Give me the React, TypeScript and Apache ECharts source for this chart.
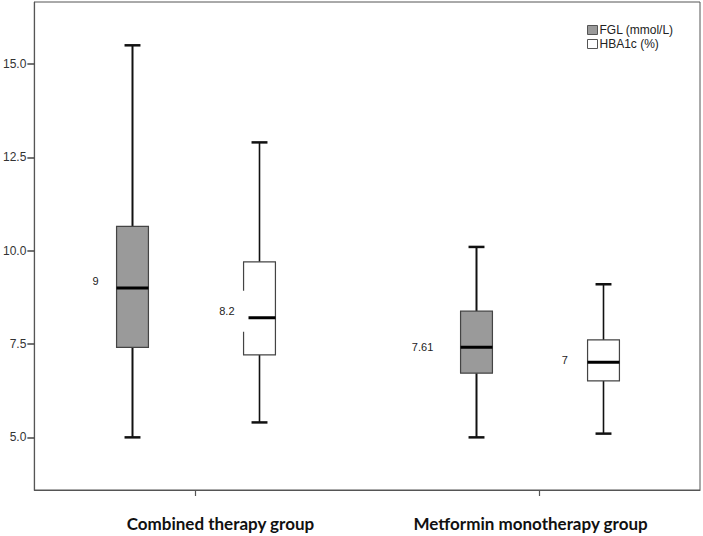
import React, { useEffect, useRef } from "react";
import * as echarts from "echarts";

// ---- data ----
const categories = ["Combined therapy group", "Metformin monotherapy group"];
const seriesNames = ["FGL (mmol/L)", "HBA1c (%)"];
// [min, Q1, median, Q3, max]
const fglStats = [
  [5.0, 7.41, 9.0, 10.65, 15.5],
  [5.0, 6.72, 7.41, 8.38, 10.1],
];
const hba1cStats = [
  [5.4, 7.21, 8.2, 9.7, 12.9],
  [5.1, 6.51, 7.01, 7.61, 9.1],
];
const fglLabels = ["9", "7.61"];
const hba1cLabels = ["8.2", "7"];
const yTickValues = [5, 7.5, 10, 12.5, 15];

// ---- layout constants ----
const Y_MIN = 3.59;
const Y_MAX = 16.66;
const X_MIN = -0.468;
const X_MAX = 1.466;
const GROUP_OFFSET = [-0.185, 0.185];
const BOX_WIDTH = 0.0926;
const CAP_WIDTH = 0.0463;
// pixel offsets of value labels: [dx from box left edge, dy from median]
const LABEL_OFFSETS = [
  [
    [-21, -6.7],
    [-38, -0.6],
  ],
  [
    [-16.7, -6.7],
    [-22.7, -2.3],
  ],
];
// category label paddings [top, right, bottom, left] (horizontal shift of labels)
const CAT_LABEL_PAD = [
  [0, 0, 0, 50],
  [0, 18, 0, 0],
];
const FILLS = ["#9a9a9a", "#ffffff"];
const WHISKER_W = [2, 1.6];

function makeRenderItem(sIdx: number, labels: string[]) {
  return (params: any, api: any) => {
    const xv = api.value(0) + GROUP_OFFSET[sIdx];
    const pMax = api.coord([xv, api.value(5)]);
    const pQ3 = api.coord([xv, api.value(4)]);
    const pMed = api.coord([xv, api.value(3)]);
    const pQ1 = api.coord([xv, api.value(2)]);
    const pMin = api.coord([xv, api.value(1)]);
    const cx = Math.round(pMax[0]) + 0.5;
    const hw = api.size([BOX_WIDTH, 0])[0] / 2;
    const cw = api.size([CAP_WIDTH, 0])[0] / 2;
    const off = LABEL_OFFSETS[sIdx][params.dataIndex];
    const ww = WHISKER_W[sIdx];
    return {
      type: "group",
      children: [
        {
          type: "line",
          shape: { x1: cx, y1: pQ3[1], x2: cx, y2: pMax[1] },
          style: { stroke: "#111", lineWidth: ww },
        },
        {
          type: "line",
          shape: { x1: cx, y1: pQ1[1], x2: cx, y2: pMin[1] },
          style: { stroke: "#111", lineWidth: ww },
        },
        {
          type: "line",
          shape: { x1: cx - cw, y1: pMax[1], x2: cx + cw, y2: pMax[1] },
          style: { stroke: "#111", lineWidth: 2.5 },
        },
        {
          type: "line",
          shape: { x1: cx - cw, y1: pMin[1], x2: cx + cw, y2: pMin[1] },
          style: { stroke: "#111", lineWidth: 2.5 },
        },
        {
          type: "rect",
          shape: { x: cx - hw, y: pQ3[1], width: hw * 2, height: pQ1[1] - pQ3[1] },
          style: { fill: FILLS[sIdx], stroke: "#444", lineWidth: 1.2 },
        },
        {
          type: "line",
          shape: { x1: cx - hw, y1: pMed[1], x2: cx + hw, y2: pMed[1] },
          style: { stroke: "#000", lineWidth: 3 },
        },
        {
          type: "text",
          x: cx - hw + off[0],
          y: pMed[1] + off[1],
          style: {
            text: labels[params.dataIndex],
            fill: "#222",
            font: "11px 'Liberation Sans', Arial, sans-serif",
            align: "center",
            verticalAlign: "middle",
            backgroundColor: "#ffffff",
            padding: [15, 14],
          },
        },
      ],
    };
  };
}

export default function App() {
  const ref = useRef<HTMLDivElement>(null);
  useEffect(() => {
    if (!ref.current) return;
    const chart = echarts.init(ref.current, null, { renderer: "svg" });
    const catRich: any = {};
    CAT_LABEL_PAD.forEach((p, i) => {
      catRich["c" + i] = {
        fontFamily: "Lato, 'Open Sans', sans-serif",
        fontWeight: "bold",
        fontSize: 17,
        color: "#111",
        padding: p,
      };
    });
    const option: any = {
      animation: false,
      backgroundColor: "#ffffff",
      grid: {
        left: 32,
        top: 2,
        right: 3,
        bottom: 46,
        show: true,
        borderColor: "#555",
        borderWidth: 1,
        backgroundColor: "transparent",
      },
      legend: {
        orient: "vertical",
        left: 582,
        top: 19,
        itemWidth: 10,
        itemHeight: 9,
        itemGap: 2,
        selectedMode: false,
        textStyle: {
          fontFamily: "'Liberation Sans', Arial, sans-serif",
          fontSize: 12,
          color: "#222",
          padding: [0, 0, 0, -3],
        },
        data: [
          {
            name: seriesNames[0],
            icon: "rect",
            itemStyle: { color: FILLS[0], borderColor: "#555", borderWidth: 1 },
          },
          {
            name: seriesNames[1],
            icon: "rect",
            itemStyle: { color: FILLS[1], borderColor: "#555", borderWidth: 1 },
          },
        ],
      },
      xAxis: {
        type: "value",
        min: X_MIN,
        max: X_MAX,
        splitLine: { show: false },
        axisLine: { show: true, onZero: false, lineStyle: { color: "#555", width: 1.2 } },
        axisTick: {
          show: true,
          customValues: [0, 1],
          length: 6,
          lineStyle: { color: "#555", width: 1.2 },
        },
        axisLabel: {
          customValues: [0, 1],
          formatter: (v: number) => {
            const i = Math.round(v);
            return categories[i] ? `{c${i}|${categories[i]}}` : "";
          },
          rich: catRich,
          margin: 25,
        },
      },
      yAxis: {
        type: "value",
        min: Y_MIN,
        max: Y_MAX,
        splitLine: { show: false },
        axisLine: { show: true, onZero: false, lineStyle: { color: "#555", width: 1.2 } },
        axisTick: {
          show: true,
          customValues: yTickValues,
          length: 7,
          lineStyle: { color: "#444", width: 1.5 },
        },
        axisLabel: {
          customValues: yTickValues,
          formatter: (v: number) => v.toFixed(1),
          fontFamily: "'Liberation Sans', Arial, sans-serif",
          fontSize: 12,
          color: "#333",
          margin: 8,
        },
      },
      series: [
        {
          name: seriesNames[0],
          type: "custom",
          renderItem: makeRenderItem(0, fglLabels),
          itemStyle: { color: FILLS[0], borderColor: "#555" },
          encode: { x: 0, y: [1, 2, 3, 4, 5] },
          data: fglStats.map((s, i) => [i, ...s]),
          z: 2,
        },
        {
          name: seriesNames[1],
          type: "custom",
          renderItem: makeRenderItem(1, hba1cLabels),
          itemStyle: { color: FILLS[1], borderColor: "#555" },
          encode: { x: 0, y: [1, 2, 3, 4, 5] },
          data: hba1cStats.map((s, i) => [i, ...s]),
          z: 3,
        },
      ],
    };
    chart.setOption(option);
    return () => chart.dispose();
  }, []);
  return (
    <div
      ref={ref}
      style={{ position: "fixed", left: 0, top: 0, width: 703, height: 536, background: "#fff" }}
    />
  );
}
